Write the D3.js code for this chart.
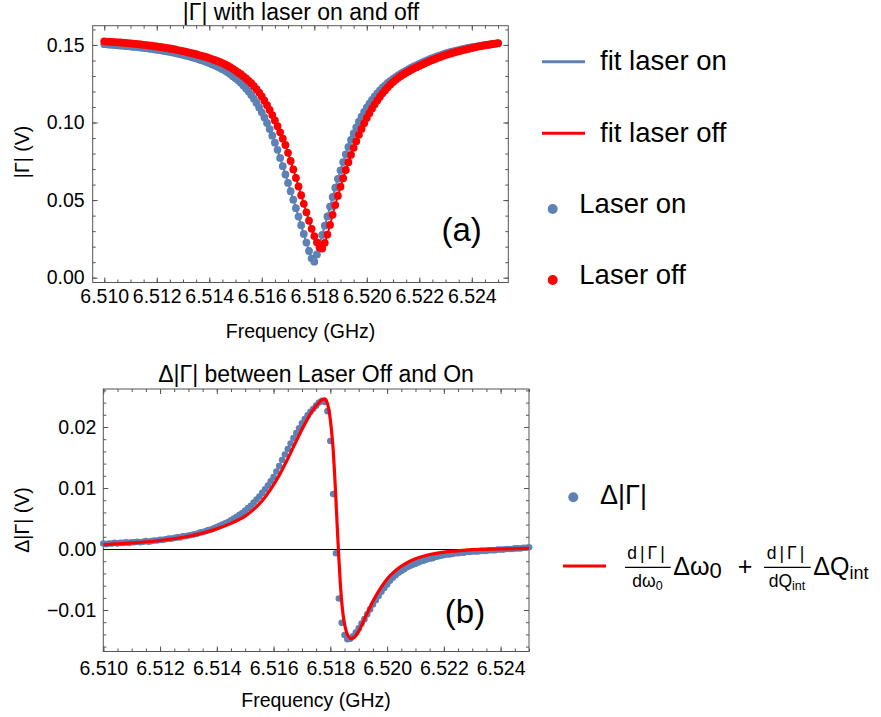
<!DOCTYPE html>
<html>
<head>
<meta charset="utf-8">
<script src="https://cdn.jsdelivr.net/npm/d3@7"></script>
<style>
  body { margin: 0; background: #fff; }
</style>
</head>
<body>
<script>
// frequency grid of the measured points (GHz)
const freq = [
  6.5100,6.5101,6.5102,6.5103,6.5104,6.5105,6.5106,6.5107,6.5108,6.5109,
  6.5110,6.5111,6.5112,6.5113,6.5114,6.5115,6.5116,6.5117,6.5118,6.5119,
  6.5120,6.5121,6.5122,6.5123,6.5124,6.5125,6.5126,6.5127,6.5128,6.5129,
  6.5130,6.5131,6.5132,6.5133,6.5134,6.5135,6.5136,6.5137,6.5138,6.5139,
  6.5140,6.5141,6.5142,6.5143,6.5144,6.5145,6.5146,6.5147,6.5148,6.5149,
  6.5150,6.5151,6.5152,6.5153,6.5154,6.5155,6.5156,6.5157,6.5158,6.5159,
  6.5160,6.5161,6.5162,6.5163,6.5164,6.5165,6.5166,6.5167,6.5168,6.5169,
  6.5170,6.5171,6.5172,6.5173,6.5174,6.5175,6.5176,6.5177,6.5178,6.5179,
  6.5180,6.5181,6.5182,6.5183,6.5184,6.5185,6.5186,6.5187,6.5188,6.5189,
  6.5190,6.5191,6.5192,6.5193,6.5194,6.5195,6.5196,6.5197,6.5198,6.5199,
  6.5200,6.5201,6.5202,6.5203,6.5204,6.5205,6.5206,6.5207,6.5208,6.5209,
  6.5210,6.5211,6.5212,6.5213,6.5214,6.5215,6.5216,6.5217,6.5218,6.5219,
  6.5220,6.5221,6.5222,6.5223,6.5224,6.5225,6.5226,6.5227,6.5228,6.5229,
  6.5230,6.5231,6.5232,6.5233,6.5234,6.5235,6.5236,6.5237,6.5238,6.5239,
  6.5240,6.5241,6.5242,6.5243,6.5244,6.5245,6.5246,6.5247,6.5248,6.5249,
  6.5250
];

// |Γ| with laser on (V)
const laserOn = [
  0.1505,0.1504,0.1502,0.1501,0.1499,0.1498,0.1496,0.1495,0.1493,0.1492,
  0.1490,0.1488,0.1487,0.1485,0.1483,0.1481,0.1479,0.1477,0.1474,0.1472,
  0.1469,0.1467,0.1464,0.1461,0.1458,0.1455,0.1452,0.1448,0.1444,0.1440,
  0.1436,0.1432,0.1428,0.1423,0.1418,0.1413,0.1407,0.1402,0.1396,0.1390,
  0.1383,0.1376,0.1369,0.1361,0.1353,0.1344,0.1335,0.1324,0.1312,0.1299,
  0.1286,0.1272,0.1256,0.1239,0.1220,0.1200,0.1178,0.1153,0.1126,0.1097,
  0.1066,0.1033,0.0997,0.0958,0.0915,0.0870,0.0824,0.0772,0.0719,0.0665,
  0.0611,0.0557,0.0503,0.0448,0.0394,0.0338,0.0282,0.0226,0.0172,0.0125,
  0.0103,0.0150,0.0215,0.0275,0.0335,0.0395,0.0458,0.0520,0.0580,0.0637,
  0.0692,0.0745,0.0795,0.0843,0.0888,0.0930,0.0969,0.1005,0.1038,0.1068,
  0.1096,0.1122,0.1146,0.1168,0.1188,0.1207,0.1224,0.1240,0.1255,0.1268,
  0.1281,0.1293,0.1304,0.1315,0.1325,0.1335,0.1344,0.1353,0.1362,0.1370,
  0.1378,0.1386,0.1394,0.1401,0.1408,0.1415,0.1421,0.1427,0.1433,0.1439,
  0.1445,0.1450,0.1455,0.1459,0.1463,0.1467,0.1471,0.1475,0.1479,0.1482,
  0.1485,0.1488,0.1491,0.1494,0.1497,0.1500,0.1502,0.1504,0.1506,0.1508,
  0.1510
];

// |Γ| with laser off (V)
const laserOff = [
  0.1523,0.1522,0.1521,0.1520,0.1518,0.1517,0.1516,0.1515,0.1513,0.1512,
  0.1510,0.1508,0.1507,0.1505,0.1503,0.1501,0.1499,0.1497,0.1495,0.1493,
  0.1490,0.1488,0.1485,0.1483,0.1480,0.1477,0.1474,0.1471,0.1467,0.1464,
  0.1460,0.1456,0.1452,0.1448,0.1444,0.1440,0.1435,0.1430,0.1426,0.1421,
  0.1415,0.1409,0.1403,0.1397,0.1390,0.1383,0.1375,0.1366,0.1357,0.1346,
  0.1335,0.1323,0.1311,0.1298,0.1284,0.1269,0.1253,0.1235,0.1215,0.1193,
  0.1168,0.1141,0.1112,0.1081,0.1048,0.1013,0.0976,0.0937,0.0896,0.0855,
  0.0805,0.0752,0.0698,0.0643,0.0588,0.0532,0.0476,0.0421,0.0367,0.0315,
  0.0268,0.0228,0.0195,0.0188,0.0225,0.0278,0.0340,0.0405,0.0468,0.0528,
  0.0586,0.0641,0.0694,0.0744,0.0792,0.0837,0.0880,0.0921,0.0959,0.0995,
  0.1029,0.1060,0.1090,0.1117,0.1142,0.1166,0.1188,0.1208,0.1227,0.1245,
  0.1261,0.1275,0.1288,0.1300,0.1311,0.1321,0.1331,0.1340,0.1349,0.1357,
  0.1365,0.1373,0.1381,0.1389,0.1396,0.1403,0.1410,0.1417,0.1423,0.1429,
  0.1435,0.1440,0.1445,0.1450,0.1455,0.1460,0.1464,0.1468,0.1472,0.1476,
  0.1480,0.1484,0.1488,0.1491,0.1494,0.1497,0.1500,0.1503,0.1506,0.1509,
  0.1512
];

// Δ|Γ| between laser off and on (V)
const deltaGamma = [
  0.0009,0.0008,0.0009,0.0009,0.0010,0.0009,0.0010,0.0010,0.0011,0.0010,
  0.0011,0.0011,0.0012,0.0011,0.0012,0.0013,0.0012,0.0013,0.0014,0.0014,
  0.0015,0.0015,0.0016,0.0017,0.0017,0.0018,0.0019,0.0019,0.0021,0.0021,
  0.0022,0.0023,0.0024,0.0025,0.0027,0.0028,0.0029,0.0031,0.0032,0.0034,
  0.0036,0.0038,0.0040,0.0042,0.0044,0.0047,0.0050,0.0053,0.0056,0.0059,
  0.0063,0.0067,0.0071,0.0076,0.0081,0.0086,0.0092,0.0098,0.0104,0.0111,
  0.0118,0.0127,0.0136,0.0146,0.0155,0.0164,0.0173,0.0182,0.0190,0.0198,
  0.0206,0.0213,0.0219,0.0225,0.0230,0.0235,0.0240,0.0243,0.0241,0.0226,
  0.0177,0.0090,-0.0007,-0.0081,-0.0121,-0.0141,-0.0148,-0.0147,-0.0143,-0.0137,
  -0.0130,-0.0122,-0.0115,-0.0107,-0.0099,-0.0091,-0.0084,-0.0077,-0.0070,-0.0064,
  -0.0058,-0.0052,-0.0047,-0.0043,-0.0039,-0.0036,-0.0033,-0.0030,-0.0028,-0.0026,
  -0.0024,-0.0022,-0.0020,-0.0019,-0.0017,-0.0016,-0.0015,-0.0013,-0.0012,-0.0011,
  -0.0010,-0.0009,-0.0009,-0.0008,-0.0007,-0.0007,-0.0006,-0.0006,-0.0005,-0.0005,
  -0.0004,-0.0004,-0.0004,-0.0003,-0.0003,-0.0003,-0.0002,-0.0002,-0.0002,-0.0001,
  -0.0001,-0.0001,0.0000,0.0000,0.0000,0.0001,0.0001,0.0001,0.0002,0.0002,
  0.0003
];

// fitted model d|Γ|/dω0 Δω0 + d|Γ|/dQint ΔQint
const fitFreq = [
  6.5100,6.5110,6.5120,6.5130,6.5135,6.5140,6.5145,6.5150,6.5153,6.5156,
  6.5159,6.5162,6.5165,6.5168,6.5171,6.5174,6.5176,6.5177,6.5178,6.51785,
  6.5179,6.51795,6.5180,6.51805,6.5181,6.51815,6.5182,6.51825,6.5183,6.51835,
  6.5184,6.51845,6.5185,6.51855,6.5186,6.51865,6.5187,6.51875,6.5188,6.5189,
  6.5190,6.5192,6.5194,6.5196,6.5198,6.5200,6.5203,6.5206,6.5210,6.5215,
  6.5220,6.5225,6.5230,6.5240,6.5250
];
const fitDelta = [
  0.0007,0.0010,0.0014,0.0021,0.0026,0.0033,0.0042,0.0054,0.0065,0.0079,
  0.0098,0.0121,0.0148,0.0177,0.0205,0.0229,0.0240,0.0244,0.0246,0.0244,
  0.0238,0.0228,0.0212,0.0190,0.0163,0.0124,0.0078,0.0030,-0.0015,-0.0055,
  -0.0086,-0.0108,-0.0123,-0.0133,-0.0140,-0.0144,-0.0146,-0.0147,-0.0146,-0.0142,
  -0.0135,-0.0115,-0.0095,-0.0077,-0.0062,-0.0049,-0.0035,-0.0025,-0.0016,-0.0009,
  -0.0005,-0.0003,-0.0001,0.0000,0.0001
];

// tick labels
const freqTicks = [6.510, 6.512, 6.514, 6.516, 6.518, 6.520, 6.522, 6.524];
const gammaTicks = [0.00, 0.05, 0.10, 0.15];
const deltaTicks = [-0.01, 0.00, 0.01, 0.02];

const blue = "#5e81b5";
const red = "#ff0000";
const frameColor = "#555";
const font = "'Liberation Sans', Arial, Helvetica, sans-serif";

let svg = d3.select("body")
  .append("svg")
    .attr("width", 881)
    .attr("height", 717)
    .style("font-family", font);

svg.append("rect")
  .attr("width", 881)
  .attr("height", 717)
  .attr("fill", "#fff");

// one side of a Mathematica style frame: inward major and minor ticks
function side(g, makeAxis, transform, major, minor, fmt, pad) {
  g.append("g")
    .attr("transform", transform)
    .call(makeAxis().tickValues(minor).tickSize(-3).tickFormat(() => ""))
    .call(a => a.select(".domain").remove())
    .attr("color", frameColor);
  let a = g.append("g")
    .attr("transform", transform)
    .call(makeAxis().tickValues(major).tickSize(-5).tickPadding(pad)
      .tickFormat(fmt ? fmt : () => ""))
    .call(a => a.select(".domain").remove())
    .attr("color", frameColor)
    .attr("font-size", 19.5)
    .attr("font-family", font);
  a.selectAll("text").attr("fill", "#000");
}

function frame(g, x, y, cfg) {
  let [left, right] = x.range(),
    [bottom, top] = y.range();
  let inX = v => v >= x.domain()[0] && v <= x.domain()[1],
    inY = v => v >= y.domain()[0] && v <= y.domain()[1];
  let xMinor = d3.range(cfg.xMinor[0], cfg.xMinor[1] + 1e-9, cfg.xMinor[2]).filter(inX),
    yMinor = d3.range(cfg.yMinor[0], cfg.yMinor[1] + 1e-9, cfg.yMinor[2]).filter(inY);

  side(g, () => d3.axisBottom(x), "translate(0," + bottom + ")", cfg.xTicks, xMinor, d3.format(".3f"), cfg.xPad);
  side(g, () => d3.axisTop(x), "translate(0," + top + ")", cfg.xTicks, xMinor, null, 0);
  side(g, () => d3.axisLeft(y), "translate(" + left + ",0)", cfg.yTicks, yMinor, d3.format(".2f"), cfg.yPad);
  side(g, () => d3.axisRight(y), "translate(" + right + ",0)", cfg.yTicks, yMinor, null, 0);

  g.append("rect")
    .attr("x", left)
    .attr("y", top)
    .attr("width", right - left)
    .attr("height", bottom - top)
    .attr("fill", "none")
    .attr("stroke", frameColor)
    .attr("stroke-width", 1);
}

function label(x, y, txt, size, anchor, rotate) {
  return svg.append("text")
    .attr("transform", "translate(" + x + "," + y + ")" + (rotate ? " rotate(-90)" : ""))
    .attr("text-anchor", anchor || "middle")
    .attr("font-size", size)
    .attr("fill", "#000")
    .text(txt);
}

// ---------- panel (a) ----------
let xTop = d3.scaleLinear().domain([6.50956, 6.52539]).range([92.7, 508.3]);
let yTop = d3.scaleLinear().domain([-0.0031, 0.1624]).range([282.5, 25.7]);

let gTop = svg.append("g");
frame(gTop, xTop, yTop, {
  xTicks: freqTicks, xMinor: [6.5095, 6.5255, 0.0005], xPad: 7,
  yTicks: gammaTicks, yMinor: [0, 0.16, 0.01], yPad: 8
});

let onPts = d3.zip(freq, laserOn),
  offPts = d3.zip(freq, laserOff);

let lineTop = d3.line()
  .x(d => xTop(d[0]))
  .y(d => yTop(d[1]))
  .curve(d3.curveMonotoneX);

gTop.append("path").datum(onPts)
  .attr("d", lineTop).attr("fill", "none").attr("stroke", blue).attr("stroke-width", 2);
gTop.append("path").datum(offPts)
  .attr("d", lineTop).attr("fill", "none").attr("stroke", red).attr("stroke-width", 2);

gTop.append("g").selectAll("circle")
  .data(onPts)
  .join("circle")
    .attr("cx", d => xTop(d[0]))
    .attr("cy", d => yTop(d[1]))
    .attr("r", 3.9)
    .attr("fill", blue);

gTop.append("g").selectAll("circle")
  .data(offPts)
  .join("circle")
    .attr("cx", d => xTop(d[0]))
    .attr("cy", d => yTop(d[1]))
    .attr("r", 3.9)
    .attr("fill", red);

label(301, 19.5, "|Γ| with laser on and off", 23);
label(300.5, 338, "Frequency (GHz)", 19.5);
label(29, 152, "|Γ| (V)", 19.5, "middle", true);
label(461.7, 241, "(a)", 33);

// legend (a)
function legendLine(x1, x2, y, color) {
  svg.append("line")
    .attr("x1", x1).attr("x2", x2).attr("y1", y).attr("y2", y)
    .attr("stroke", color).attr("stroke-width", 3);
}
function legendDot(x, y, color) {
  svg.append("circle").attr("cx", x).attr("cy", y).attr("r", 5).attr("fill", color);
}
legendLine(542, 585, 61.7, blue);
label(600, 70, "fit laser on", 27.5, "start");
legendLine(542, 585, 133.3, red);
label(600, 141.7, "fit laser off", 27.5, "start");
legendDot(552.7, 209, blue);
label(579.3, 212.7, "Laser on", 27.5, "start");
legendDot(552.7, 280, red);
label(579.3, 284, "Laser off", 27.5, "start");

// ---------- panel (b) ----------
let xBot = d3.scaleLinear().domain([6.510, 6.525]).range([103.3, 529]);
let yBot = d3.scaleLinear().domain([-0.0168, 0.02623]).range([651.5, 389]);

let gBot = svg.append("g");
frame(gBot, xBot, yBot, {
  xTicks: freqTicks, xMinor: [6.5100, 6.5250, 0.0005], xPad: 10,
  yTicks: deltaTicks, yMinor: [-0.016, 0.026, 0.002], yPad: 7
});

// zero axis
let zeroY = Math.round(yBot(0)) + 0.5;
gBot.append("line")
  .attr("x1", xBot.range()[0]).attr("x2", xBot.range()[1])
  .attr("y1", zeroY).attr("y2", zeroY)
  .attr("stroke", "#000").attr("stroke-width", 1);

gBot.append("g").selectAll("circle")
  .data(d3.zip(freq, deltaGamma))
  .join("circle")
    .attr("cx", d => xBot(d[0]))
    .attr("cy", d => yBot(d[1]))
    .attr("r", 3.3)
    .attr("fill", blue);

gBot.append("path")
  .datum(d3.zip(fitFreq, fitDelta))
  .attr("d", d3.line()
    .x(d => xBot(d[0]))
    .y(d => yBot(d[1]))
    .curve(d3.curveMonotoneX))
  .attr("fill", "none")
  .attr("stroke", red)
  .attr("stroke-width", 3.2);

label(316, 382, "Δ|Γ| between Laser Off and On", 23);
label(316, 707, "Frequency (GHz)", 19.5);
label(29, 520, "Δ|Γ| (V)", 19.5, "middle", true);
label(465, 623, "(b)", 33);

// legend (b)
legendDot(573.3, 497.3, blue);
label(600, 503.5, "Δ|Γ|", 27, "start");
legendLine(563, 606, 566, red);

function fraction(cx, x1, x2, num, den, denSub) {
  svg.append("text")
    .attr("x", cx).attr("y", 559)
    .attr("text-anchor", "middle")
    .attr("font-size", 17.5)
    .attr("letter-spacing", 3)
    .text(num);
  svg.append("line")
    .attr("x1", x1).attr("x2", x2).attr("y1", 567.3).attr("y2", 567.3)
    .attr("stroke", "#000").attr("stroke-width", 1.2);
  let t = svg.append("text")
    .attr("x", cx).attr("y", 587)
    .attr("text-anchor", "middle")
    .attr("font-size", 17.5);
  t.append("tspan").text(den);
  t.append("tspan").attr("font-size", 12.5).attr("dy", 3).text(denSub);
}

fraction(647.5, 625, 670.7, "d|Γ|", "dω", "0");
let term1 = svg.append("text").attr("x", 673.3).attr("y", 575).attr("font-size", 25);
term1.append("tspan").text("Δω");
term1.append("tspan").attr("font-size", 22).attr("dy", 3).text("0");
label(745, 575, "+", 25);
fraction(787, 764, 810.7, "d|Γ|", "dQ", "int");
let term2 = svg.append("text").attr("x", 813.3).attr("y", 575).attr("font-size", 25);
term2.append("tspan").text("ΔQ");
term2.append("tspan").attr("font-size", 18).attr("dy", 4).text("int");
</script>
</body>
</html>
